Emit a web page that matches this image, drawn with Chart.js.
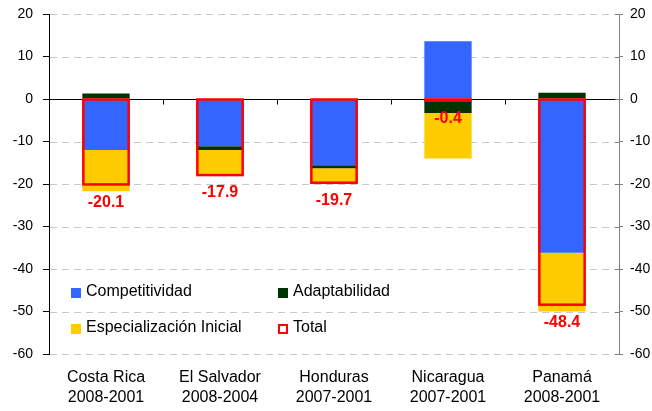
<!DOCTYPE html>
<html>
<head>
<meta charset="utf-8">
<script src="https://cdn.jsdelivr.net/npm/chart.js@4.4.0/dist/chart.umd.min.js"></script>
<style>
  html, body { margin: 0; padding: 0; background: #fff; }
  #wrap { width: 652px; height: 411px; }
</style>
</head>
<body>
<div id="wrap"><canvas id="grafico" width="652" height="411"></canvas></div>
<script>
const categorias = [
  ['Costa Rica', '2008-2001'],
  ['El Salvador', '2008-2004'],
  ['Honduras', '2007-2001'],
  ['Nicaragua', '2007-2001'],
  ['Panamá', '2008-2001']
];
const competitividad = [-12.0, -11.1, -15.6, 13.6, -36.2];
const adaptabilidad = [1.3, -0.9, -0.7, -3.3, 1.5];
const especializacion = [-9.7, -5.8, -3.3, -10.7, -13.8];
const total = [-20.1, -17.9, -19.7, -0.4, -48.4];
const ticksY = [20, 10, 0, -10, -20, -30, -40, -50, -60];

const fonte = "'Liberation Sans', Arial, sans-serif";

// grade tracejada, linha do zero, marcas das categorias e marcas internas do eixo direito
const linhasExtras = {
  id: 'linhasExtras',
  beforeDatasetsDraw(chart) {
    const ctx = chart.ctx;
    const a = chart.chartArea;
    const x = chart.scales.x;
    const y = chart.scales.y;
    ctx.save();
    ctx.strokeStyle = '#c8c8c8';
    ctx.lineWidth = 1;
    ctx.setLineDash([7, 5]);
    ctx.beginPath();
    ticksY.forEach(v => {
      if (v === 0) return;
      const yy = Math.round(y.getPixelForValue(v)) + 0.5;
      ctx.moveTo(a.left + 1, yy);
      ctx.lineTo(a.right - 1, yy);
    });
    ctx.stroke();
    ctx.setLineDash([]);
    const y0 = Math.round(y.getPixelForValue(0)) + 0.5;
    ctx.strokeStyle = '#000';
    ctx.beginPath();
    ctx.moveTo(a.left, y0);
    ctx.lineTo(a.right, y0);
    for (let i = 0; i < categorias.length - 1; i++) {
      const xb = Math.round((x.getPixelForValue(i) + x.getPixelForValue(i + 1)) / 2) + 0.5;
      ctx.moveTo(xb, y0);
      ctx.lineTo(xb, y0 + 5);
    }
    ctx.stroke();
    ctx.strokeStyle = '#808080';
    ctx.beginPath();
    ticksY.forEach(v => {
      const yy = Math.round(y.getPixelForValue(v)) + 0.5;
      ctx.moveTo(a.right - 4, yy);
      ctx.lineTo(a.right, yy);
    });
    ctx.stroke();
    ctx.restore();
  },
  afterDatasetsDraw(chart) {
    const ctx = chart.ctx;
    const meta = chart.getDatasetMeta(3);
    ctx.save();
    // contorno do total
    ctx.strokeStyle = '#ff0000';
    ctx.lineWidth = 2.5;
    meta.data.forEach(bar => {
      const p = bar.getProps(['x', 'y', 'base', 'width'], true);
      const top = Math.min(p.y, p.base);
      const h = Math.abs(p.y - p.base);
      ctx.strokeRect(p.x - p.width / 2 + 1, top, p.width - 2, h);
    });
    // rótulos
    ctx.fillStyle = '#ff0000';
    ctx.font = 'bold 16px ' + fonte;
    ctx.textAlign = 'center';
    ctx.textBaseline = 'middle';
    meta.data.forEach((bar, i) => {
      const p = bar.getProps(['x', 'y'], true);
      ctx.fillText(total[i].toFixed(1), p.x, p.y + 18);
    });
    // legenda
    const a = chart.chartArea;
    const ds = chart.data.datasets;
    const itens = [
      { d: ds[0], x: a.left + 22, base: 296 },
      { d: ds[1], x: a.left + 229, base: 296 },
      { d: ds[2], x: a.left + 22, base: 332 },
      { d: ds[3], x: a.left + 229, base: 332 }
    ];
    ctx.font = '16px ' + fonte;
    ctx.textAlign = 'left';
    ctx.textBaseline = 'alphabetic';
    itens.forEach((it, i) => {
      if (i === 3) {
        ctx.fillStyle = '#fff';
        ctx.fillRect(it.x, it.base - 8, 10, 10);
        ctx.strokeStyle = '#ff0000';
        ctx.lineWidth = 2;
        ctx.strokeRect(it.x + 1, it.base - 7, 8, 8);
      } else {
        ctx.fillStyle = it.d.backgroundColor;
        ctx.fillRect(it.x, it.base - 8, 10, 10);
      }
      ctx.fillStyle = '#000';
      ctx.fillText(it.d.label, it.x + 15, it.base);
    });
    ctx.restore();
  }
};

new Chart(document.getElementById('grafico'), {
  type: 'bar',
  data: {
    labels: categorias,
    datasets: [{
      label: 'Competitividad',
      data: competitividad,
      backgroundColor: '#3366ff',
      stack: 'a',
      order: 1
    },
    {
      label: 'Adaptabilidad',
      data: adaptabilidad,
      backgroundColor: '#003300',
      stack: 'a',
      order: 1
    },
    {
      label: 'Especialización Inicial',
      data: especializacion,
      backgroundColor: '#ffcc00',
      stack: 'a',
      order: 1
    },
    {
      label: 'Total',
      data: total,
      backgroundColor: 'rgba(0,0,0,0)',
      borderWidth: 0,
      stack: 't',
      order: 0
    }
    ]
  },
  options: {
    responsive: false,
    animation: false,
    devicePixelRatio: 1,
    layout: { padding: { top: 14, left: 0, right: 0, bottom: 0 } },
    datasets: {
      bar: { grouped: false, categoryPercentage: 1, barPercentage: 0.415 }
    },
    plugins: {
      legend: { display: false },
      tooltip: { enabled: false },
      title: { display: false }
    },
    scales: {
      x: {
        offset: true,
        grid: { display: false, drawTicks: false },
        border: { display: false },
        ticks: {
          color: '#000',
          padding: 14,
          maxRotation: 0,
          font: { family: fonte, size: 16, lineHeight: 1.25 }
        },
        afterFit(s) { s.height = 57; }
      },
      y: {
        stacked: true,
        min: -60,
        max: 20,
        position: 'left',
        ticks: {
          stepSize: 10,
          color: '#000',
          padding: 10,
          font: { family: fonte, size: 14 }
        },
        grid: {
          drawOnChartArea: false,
          tickColor: '#000',
          tickLength: 6
        },
        border: { display: true, color: '#000', width: 1 },
        afterFit(s) { s.width = 49; s.paddingTop = 0; s.paddingBottom = 0; }
      },
      y2: {
        min: -60,
        max: 20,
        position: 'right',
        ticks: {
          stepSize: 10,
          color: '#000',
          padding: 7,
          font: { family: fonte, size: 14 }
        },
        grid: {
          drawOnChartArea: false,
          tickColor: '#808080',
          tickLength: 4
        },
        border: { display: true, color: '#808080', width: 1 },
        afterFit(s) { s.width = 33; s.paddingTop = 0; s.paddingBottom = 0; }
      }
    }
  },
  plugins: [linhasExtras]
});
</script>
</body>
</html>
